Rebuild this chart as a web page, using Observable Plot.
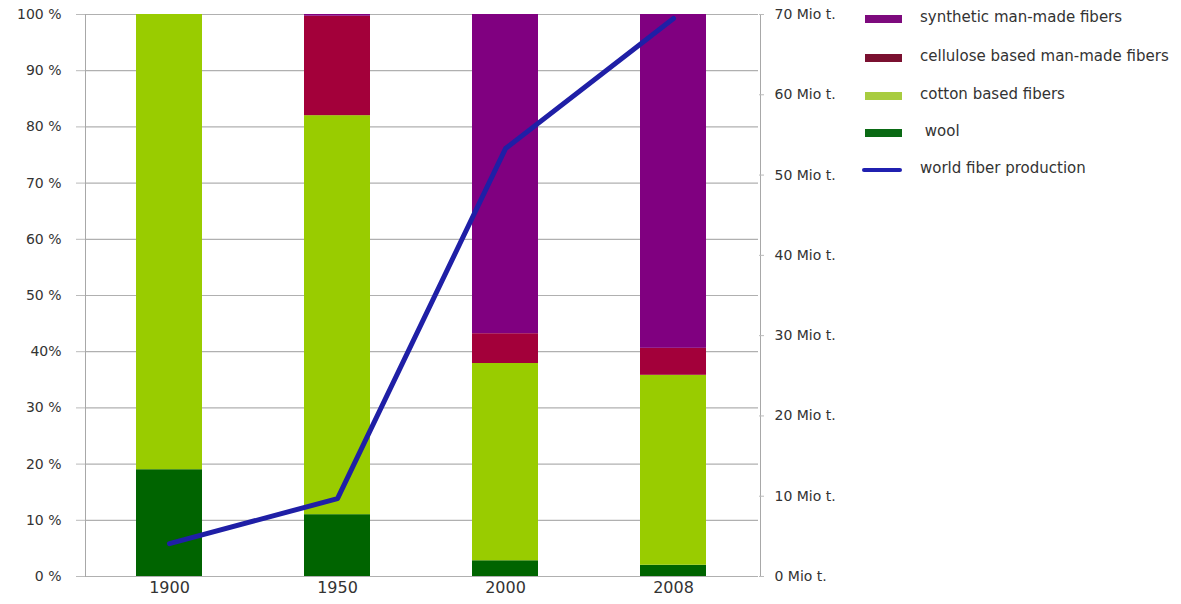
<!DOCTYPE html>
<html>
<head>
<meta charset="utf-8">
<script src="https://cdn.jsdelivr.net/npm/d3@7"></script>
<script src="https://cdn.jsdelivr.net/npm/@observablehq/plot@0.6"></script>
<style>
  body { margin: 0; background: #fff; }
  #wrap { position: relative; width: 1181px; height: 604px; font-family: "DejaVu Sans", sans-serif; }
  #legend { position: absolute; left: 862px; top: 0; font-size: 15px; color: #333; }
  .item { position: absolute; left: 0; white-space: nowrap; height: 20px; }
  .sw { position: absolute; left: 3px; width: 37px; height: 8px; }
  .lab { position: absolute; left: 58px; top: -11px; }
</style>
</head>
<body>
<div id="wrap"></div>
<script>
// Categories and values (percent share of fiber production)
const years = ["1900", "1950", "2000", "2008"];
const series = ["wool", "cotton based fibers", "cellulose based man-made fibers", "synthetic man-made fibers"];
const wool      = [19, 11, 2.8, 2.0];
const cotton    = [81, 71, 35.1, 33.8];
const cellulose = [0, 17.7, 5.3, 4.8];
const synthetic = [0, 0.3, 56.8, 59.4];
// World fiber production, Mio t.
const production = [4.1, 9.7, 53.3, 69.5];
const colors = ["#006400", "#99cc00", "#a3003a", "#800080"];
const lineColor = "#1f1fa6";
const pctTicks = [0, 10, 20, 30, 40, 50, 60, 70, 80, 90, 100];
const pctLabels = ["0 %", "10 %", "20 %", "30 %", "40%", "50 %", "60 %", "70 %", "80 %", "90 %", "100 %"];
const mioTicks = [0, 10, 20, 30, 40, 50, 60, 70];
const mioMax = 70;

const legendItems = [
  {label: "synthetic man-made fibers", color: "#7d0a7d", type: "rect"},
  {label: "cellulose based man-made fibers", color: "#7a1030", type: "rect"},
  {label: "cotton based fibers", color: "#a8cc40", type: "rect"},
  {label: " wool", color: "#0a6a14", type: "rect"},
  {label: "world fiber production", color: "#2020b0", type: "line"}
];

const valuesBySeries = [wool, cotton, cellulose, synthetic];
const bars = [];
series.forEach((s, i) => years.forEach((y, j) => bars.push({year: y, series: s, value: valuesBySeries[i][j]})));
const lineData = years.map((y, j) => ({year: y, pct: production[j] / mioMax * 100}));

const chart = Plot.plot({
  width: 1181,
  height: 604,
  marginLeft: 85,
  marginRight: 423,
  marginTop: 14,
  marginBottom: 28,
  style: {fontFamily: "DejaVu Sans, sans-serif", color: "#333", background: "#fff"},
  x: {domain: years, paddingInner: 0.607, paddingOuter: 0.3035, label: null},
  y: {domain: [0, 100], label: null},
  color: {domain: series, range: colors},
  marks: [
    Plot.ruleY(pctTicks, {stroke: "#b0b0b0", strokeWidth: 1.2}),
    Plot.frame({anchor: "left", stroke: "#a8a8a8"}),
    Plot.frame({anchor: "right", stroke: "#a8a8a8", dx: 2}),
    Plot.axisY({ticks: pctTicks, tickFormat: d => pctLabels[pctTicks.indexOf(d)], tickSize: 9, tickPadding: 15, fontSize: 14, stroke: "#bbb", label: null}),
    Plot.axisY({anchor: "right", ticks: mioTicks.map(v => v / mioMax * 100), tickFormat: d => `${Math.round(d * mioMax / 100)} Mio t.`, tickSize: 5, tickPadding: 11, fontSize: 14, stroke: "#bbb", label: null}),
    Plot.axisX({tickSize: 0, tickPadding: 5, fontSize: 16, label: null}),
    Plot.barY(bars, Plot.stackY({x: "year", y: "value", fill: "series", order: series})),
    Plot.line(lineData, {x: "year", y: "pct", stroke: lineColor, strokeWidth: 5, strokeLinejoin: "round"})
  ]
});
const wrap = document.getElementById("wrap");
wrap.appendChild(chart);

const legend = document.createElement("div");
legend.id = "legend";
const tops = [19, 58, 96, 133, 170];
legendItems.forEach((it, i) => {
  const d = document.createElement("div");
  d.className = "item";
  d.style.top = tops[i] + "px";
  const sw = document.createElement("div");
  sw.className = "sw";
  sw.style.background = it.color;
  if (it.type === "line") { sw.style.height = "4px"; sw.style.left = "0px"; sw.style.width = "40px"; sw.style.top = "-2px"; sw.style.borderRadius = "2px"; }
  else { sw.style.top = "-4px"; }
  const lab = document.createElement("div");
  lab.className = "lab";
  lab.textContent = it.label;
  lab.style.whiteSpace = "pre";
  d.appendChild(sw); d.appendChild(lab);
  legend.appendChild(d);
});
wrap.appendChild(legend);
</script>
</body>
</html>
